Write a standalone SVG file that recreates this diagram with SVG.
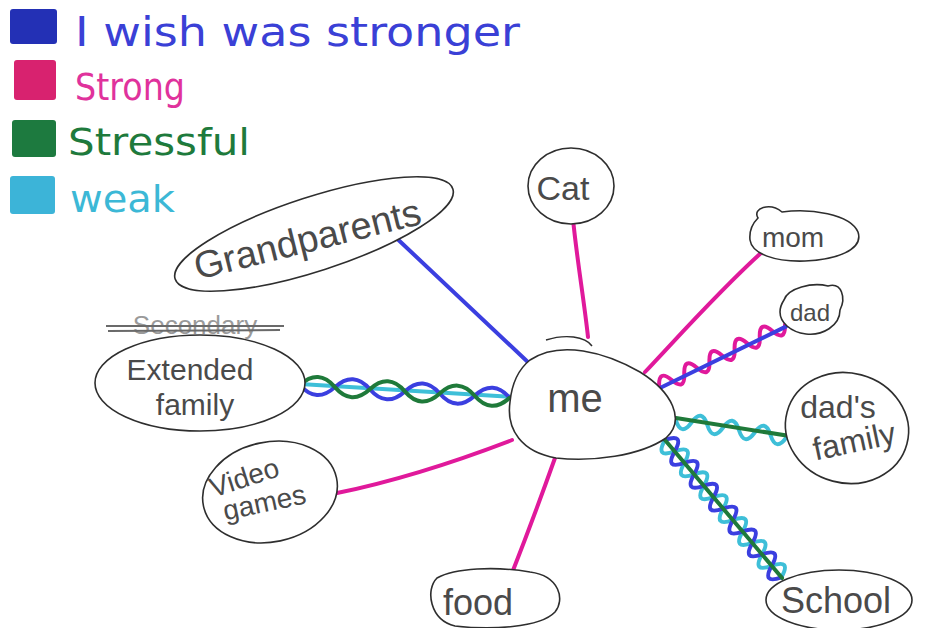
<svg xmlns="http://www.w3.org/2000/svg" width="925" height="628" viewBox="0 0 925 628">
  <style>
    .node { fill: #ffffff; stroke: #2e2e2e; stroke-width: 1.6; }
    .lbl { font-family: "Liberation Sans", "DejaVu Sans", sans-serif; fill: #4a4a4a; text-anchor: middle; }
    .leg { font-family: "DejaVu Sans", "Liberation Sans", sans-serif; }
    .w { fill: none; stroke-width: 4; stroke-linecap: round; stroke-linejoin: round; }
    .pink { stroke: #e0199b; }
    .blue { stroke: #3b3fe0; }
    .green { stroke: #1f7a3a; }
    .cyan { stroke: #3ebfd8; }
  </style>

  <rect width="925" height="628" fill="#ffffff"/>

  <!-- legend -->
  <g id="legend">
    <rect x="10" y="9" width="47" height="35" rx="3" fill="#2330b5"/>
    <text class="leg" x="75" y="46" font-size="40" fill="#3a40d6" textLength="445" lengthAdjust="spacingAndGlyphs">I wish was stronger</text>
    <rect x="14" y="60" width="42" height="40" rx="3" fill="#d8226f"/>
    <text class="leg" x="75" y="100" font-size="38" fill="#e0329c" textLength="110" lengthAdjust="spacingAndGlyphs">Strong</text>
    <rect x="12" y="120" width="44" height="37" rx="3" fill="#1d7a3f"/>
    <text class="leg" x="68" y="155" font-size="38" fill="#1e7a3c" textLength="182" lengthAdjust="spacingAndGlyphs">Stressful</text>
    <rect x="10" y="176" width="45" height="38" rx="3" fill="#3cb4d8"/>
    <text class="leg" x="70" y="212" font-size="38" fill="#3cb8d6" textLength="105" lengthAdjust="spacingAndGlyphs">weak</text>
  </g>

  <!-- connectors -->
  <g id="connectors">
    <!-- me to Grandparents -->
    <path class="w blue" d="M390,232 L531,365"/>
    <!-- me to Cat -->
    <path class="w pink" d="M573,219 C577,260 584,300 588,337"/>
    <!-- me to mom -->
    <path class="w pink" d="M761,253 C720,290 680,335 645,372"/>
    <!-- me to dad -->
    <g transform="translate(660,388) rotate(-26)">
      <path class="w pink" d="M0,-2 q7,-16 14,0 t14,0 t14,0 t14,0 t14,0 t14,0 t14,0 t14,0 t14,0 t14,0"/>
      <path class="w blue" d="M0,0 L140,0"/>
    </g>
    <!-- me to dad's family -->
    <g transform="translate(676,418) rotate(9)">
      <path class="w cyan" d="M0,2 q8,16 16,0 t16,0 t16,0 t16,0 t16,0 t16,0 t16,0 t16,0"/>
      <path class="w green" d="M0,0 L128,0"/>
    </g>
    <!-- me to School -->
    <g transform="translate(665,440) rotate(49.7)">
      <path class="w cyan" d="M0,0 q7.5,20 15,0 t15,0 t15,0 t15,0 t15,0 t15,0 t15,0 t15,0 t15,0 t15,0 t15,0 t15,0"/>
      <path class="w blue" d="M0,0 q7.5,-20 15,0 t15,0 t15,0 t15,0 t15,0 t15,0 t15,0 t15,0 t15,0 t15,0 t15,0 t15,0"/>
      <path class="w green" d="M0,0 L181,0"/>
    </g>
    <!-- me to food -->
    <path class="w pink" d="M555,458 C540,500 525,540 512,573"/>
    <!-- me to Video games -->
    <path class="w pink" d="M337,493 C400,480 460,460 512,440"/>
    <!-- me to Extended family -->
    <g transform="translate(300,385) rotate(3.5)">
      <path class="w cyan" d="M0,-1 L210,-1"/>
      <path class="w blue" d="M0,0 q17.5,18 35,0 t35,0 t35,0 t35,0 t35,0 t35,0"/>
      <path class="w green" d="M0,0 q17.5,-18 35,0 t35,0 t35,0 t35,0 t35,0 t35,0"/>
    </g>
  </g>

  <!-- nodes -->
  <g id="me">
    <path class="node" d="M530,360 C560,340 605,352 640,372 C672,392 686,420 666,438 C640,456 592,462 556,458 C522,452 506,430 510,402 C512,382 520,368 530,360 Z"/>
    <path d="M546,340 C565,334 585,336 592,346" fill="none" stroke="#2e2e2e" stroke-width="1.4"/>
    <text class="lbl" x="575" y="412" font-size="40">me</text>
  </g>

  <g id="grandparents">
    <ellipse class="node" cx="314" cy="234" rx="146" ry="37" transform="rotate(-18 314 234)"/>
    <text class="lbl" x="308" y="252" font-size="38" transform="rotate(-14 308 242)">Grandparents</text>
  </g>

  <g id="cat">
    <ellipse class="node" cx="571" cy="186" rx="43" ry="38"/>
    <text class="lbl" x="563" y="200" font-size="34">Cat</text>
  </g>

  <g id="mom">
    <path class="node" d="M758,218 C752,208 770,202 782,212 C810,208 850,214 858,232 C864,250 835,260 805,261 C775,262 752,254 750,240 C749,230 752,224 758,218 Z"/>
    <text class="lbl" x="793" y="247" font-size="28">mom</text>
  </g>

  <g id="dad">
    <path class="node" d="M784,300 C788,288 812,282 828,286 C842,282 846,298 840,310 C840,326 822,336 806,334 C790,332 780,322 780,312 C780,306 782,303 784,300 Z"/>
    <text class="lbl" x="810" y="321" font-size="24">dad</text>
  </g>

  <g id="dads-family">
    <ellipse class="node" cx="847" cy="428" rx="62" ry="55" transform="rotate(15 847 428)"/>
    <text class="lbl" x="838" y="418" font-size="32">dad's</text>
    <text class="lbl" x="855" y="452" font-size="32" transform="rotate(-12 855 445)">family</text>
  </g>

  <g id="school">
    <ellipse class="node" cx="839" cy="600" rx="73" ry="30"/>
    <text class="lbl" x="836" y="613" font-size="36">School</text>
  </g>

  <g id="food">
    <path class="node" d="M437,578 C455,568 495,566 530,572 C560,576 565,600 555,612 C540,628 490,630 455,626 C430,620 425,590 437,578 Z"/>
    <text class="lbl" x="478" y="615" font-size="36">food</text>
  </g>

  <g id="video-games">
    <ellipse class="node" cx="270" cy="492" rx="68" ry="50" transform="rotate(-12 270 492)"/>
    <text class="lbl" x="245" y="487" font-size="28" transform="rotate(-18 245 480)">Video</text>
    <text class="lbl" x="265" y="512" font-size="28" transform="rotate(-12 265 505)">games</text>
  </g>

  <g id="extended-family">
    <ellipse class="node" cx="200" cy="383" rx="105" ry="48"/>
    <text x="195" y="334" font-size="26" fill="#9a9a9a" text-anchor="middle" font-family="Liberation Sans, DejaVu Sans, sans-serif">Secondary</text>
    <path d="M106,326 L284,326 M108,331 L280,330" stroke="#6a6a6a" stroke-width="2" fill="none"/>
    <text class="lbl" x="190" y="380" font-size="30">Extended</text>
    <text class="lbl" x="195" y="415" font-size="30">family</text>
  </g>
</svg>
